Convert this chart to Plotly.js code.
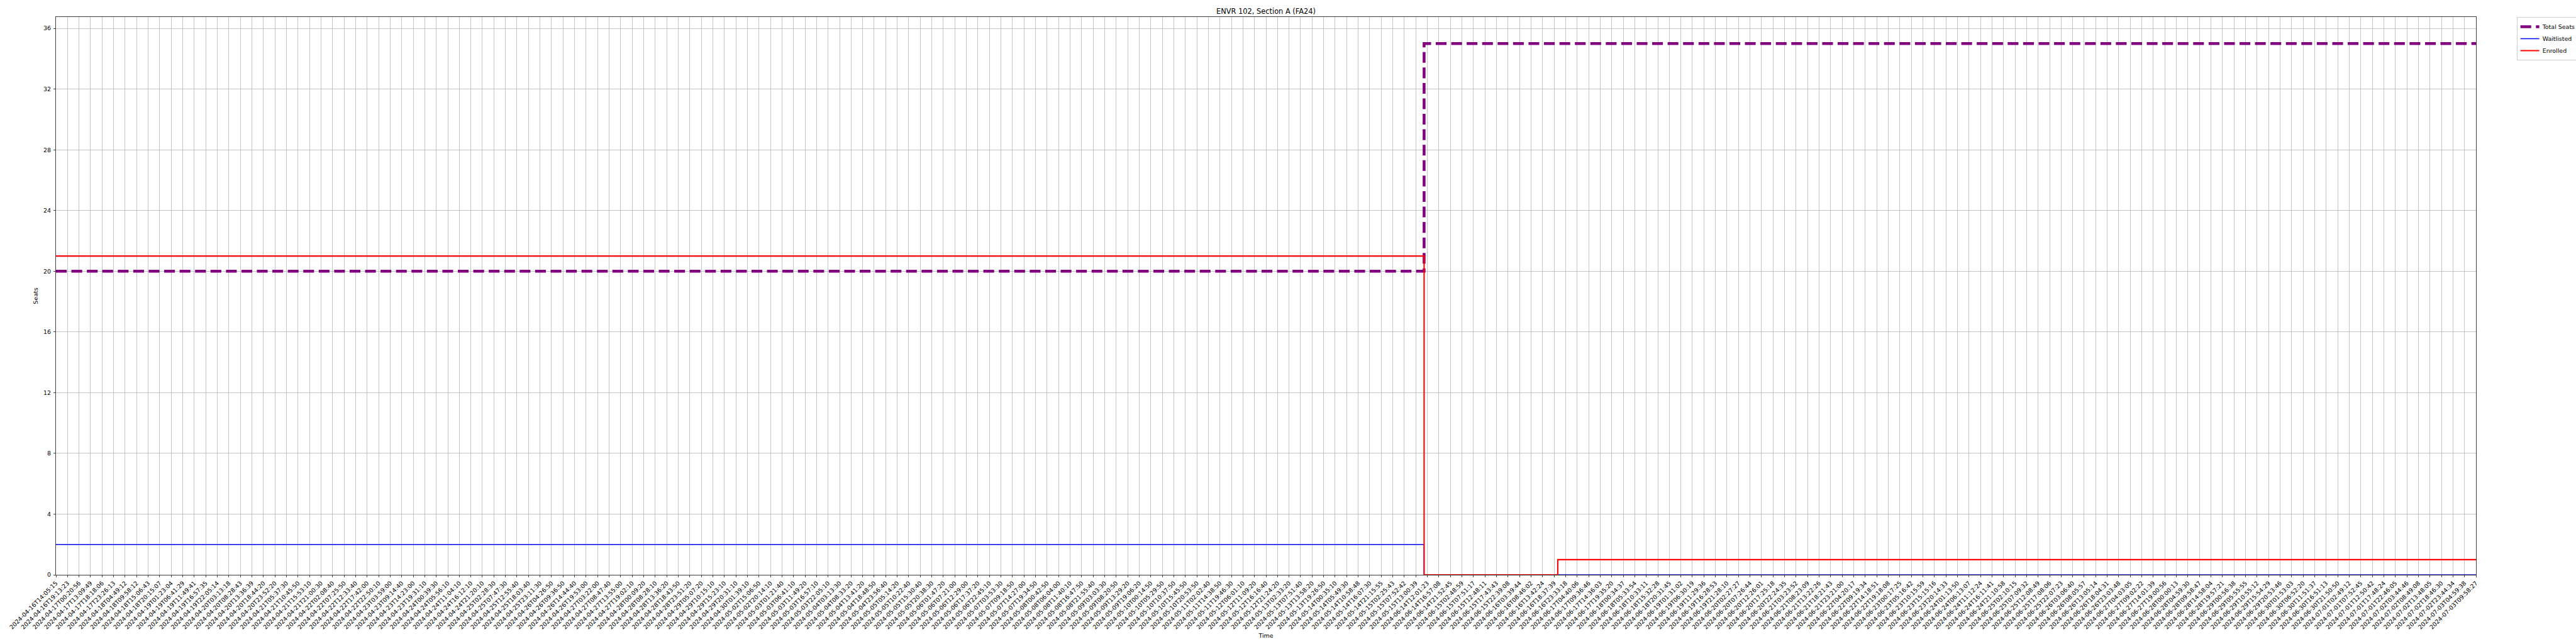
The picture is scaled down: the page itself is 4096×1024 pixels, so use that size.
<!DOCTYPE html>
<html><head><meta charset="utf-8">
<script src="https://cdn.plot.ly/plotly-3.0.1.min.js"></script>
<style>html,body{margin:0;padding:0;background:#fff}#chart{width:4096px;height:1024px}</style>
</head><body><div id="chart"></div>
<script>
const timeLabels = [
"2024-04-16T14:05:15","2024-04-16T19:13:23","2024-04-17T00:20:56","2024-04-17T13:09:49","2024-04-17T18:18:06",
"2024-04-17T23:26:13","2024-04-18T04:49:12","2024-04-18T09:58:12","2024-04-18T15:06:43","2024-04-18T20:15:07",
"2024-04-19T01:23:04","2024-04-19T06:41:29","2024-04-19T11:49:41","2024-04-19T16:57:35","2024-04-19T22:05:14",
"2024-04-20T03:13:18","2024-04-20T08:28:43","2024-04-20T13:36:39","2024-04-20T18:44:20","2024-04-20T23:52:20",
"2024-04-21T05:37:30","2024-04-21T10:45:50","2024-04-21T15:53:10","2024-04-21T21:00:30","2024-04-22T02:08:40",
"2024-04-22T07:25:50","2024-04-22T12:33:40","2024-04-22T17:42:00","2024-04-22T22:50:10","2024-04-23T03:59:00",
"2024-04-23T09:14:40","2024-04-23T14:23:00","2024-04-23T19:31:10","2024-04-24T00:39:30","2024-04-24T05:56:10",
"2024-04-24T11:04:10","2024-04-24T16:12:10","2024-04-24T21:20:10","2024-04-25T02:28:30","2024-04-25T07:47:30",
"2024-04-25T12:55:40","2024-04-25T18:03:40","2024-04-25T23:11:30","2024-04-26T04:26:50","2024-04-26T09:36:50",
"2024-04-26T14:44:40","2024-04-26T19:53:00","2024-04-27T03:22:00","2024-04-27T08:47:40","2024-04-27T13:55:00",
"2024-04-27T19:02:10","2024-04-28T00:09:20","2024-04-28T08:28:10","2024-04-28T13:36:20","2024-04-28T18:43:50",
"2024-04-28T23:51:20","2024-04-29T05:07:20","2024-04-29T10:15:10","2024-04-29T15:23:10","2024-04-29T20:31:10",
"2024-04-30T01:39:10","2024-05-02T15:06:50","2024-05-02T20:14:10","2024-05-03T01:21:40","2024-05-03T06:41:10",
"2024-05-03T11:49:20","2024-05-03T16:57:10","2024-05-03T22:05:10","2024-05-04T03:13:30","2024-05-04T08:33:20",
"2024-05-04T13:41:20","2024-05-04T18:48:50","2024-05-04T23:56:40","2024-05-05T05:14:20","2024-05-05T10:22:40",
"2024-05-05T15:30:40","2024-05-05T20:38:30","2024-05-06T01:47:20","2024-05-06T07:21:00","2024-05-06T12:29:00",
"2024-05-06T17:37:20","2024-05-06T22:45:10","2024-05-07T03:53:30","2024-05-07T09:18:50","2024-05-07T14:27:00",
"2024-05-07T19:34:50","2024-05-08T00:42:50","2024-05-08T06:04:00","2024-05-08T11:40:10","2024-05-08T16:47:50",
"2024-05-08T21:55:40","2024-05-09T03:03:30","2024-05-09T08:20:50","2024-05-09T13:29:20","2024-05-09T19:06:20",
"2024-05-10T00:14:50","2024-05-10T05:29:50","2024-05-10T10:37:50","2024-05-10T15:45:50","2024-05-10T20:53:50",
"2024-05-11T02:02:40","2024-05-11T14:38:50","2024-05-11T19:46:30","2024-05-12T06:01:10","2024-05-12T11:09:20",
"2024-05-12T16:16:40","2024-05-12T21:24:20","2024-05-13T02:33:20","2024-05-13T07:51:40","2024-05-13T13:58:20",
"2024-05-13T19:26:50","2024-05-14T00:35:10","2024-05-14T05:49:30","2024-05-14T10:58:48","2024-05-14T16:07:30",
"2024-05-14T21:15:55","2024-05-15T02:25:43","2024-05-15T07:52:42","2024-05-15T13:00:39","2024-06-14T12:01:23",
"2024-06-14T16:57:08","2024-06-14T21:52:45","2024-06-15T02:48:59","2024-06-15T07:51:17","2024-06-15T12:48:11",
"2024-06-15T17:43:43","2024-06-15T22:39:08","2024-06-16T03:39:44","2024-06-16T08:46:02","2024-06-16T13:42:24",
"2024-06-16T18:37:39","2024-06-16T23:33:18","2024-06-17T04:40:06","2024-06-17T09:36:46","2024-06-17T14:36:03",
"2024-06-17T19:35:20","2024-06-18T00:34:37","2024-06-18T05:33:54","2024-06-18T10:33:11","2024-06-18T15:32:28",
"2024-06-18T20:31:45","2024-06-19T01:31:02","2024-06-19T06:30:19","2024-06-19T11:29:36","2024-06-19T16:28:53",
"2024-06-19T21:28:10","2024-06-20T02:27:27","2024-06-20T07:26:44","2024-06-20T12:26:01","2024-06-20T17:25:18",
"2024-06-20T22:24:35","2024-06-21T03:23:52","2024-06-21T08:23:09","2024-06-21T13:22:26","2024-06-21T18:21:43",
"2024-06-21T23:21:00","2024-06-22T04:20:17","2024-06-22T09:19:34","2024-06-22T14:18:51","2024-06-22T19:18:08",
"2024-06-23T00:17:25","2024-06-23T05:16:42","2024-06-23T10:15:59","2024-06-23T15:15:16","2024-06-23T20:14:33",
"2024-06-24T01:13:50","2024-06-24T06:13:07","2024-06-24T11:12:24","2024-06-24T16:11:41","2024-06-24T21:10:58",
"2024-06-25T02:10:15","2024-06-25T07:09:32","2024-06-25T12:08:49","2024-06-25T17:08:06","2024-06-25T22:07:23",
"2024-06-26T03:06:40","2024-06-26T08:05:57","2024-06-26T13:05:14","2024-06-26T18:04:31","2024-06-26T23:03:48",
"2024-06-27T04:03:05","2024-06-27T09:02:22","2024-06-27T14:01:39","2024-06-27T19:00:56","2024-06-28T00:00:13",
"2024-06-28T04:59:30","2024-06-28T09:58:47","2024-06-28T14:58:04","2024-06-28T19:57:21","2024-06-29T00:56:38",
"2024-06-29T05:55:55","2024-06-29T10:55:12","2024-06-29T15:54:29","2024-06-29T20:53:46","2024-06-30T01:53:03",
"2024-06-30T06:52:20","2024-06-30T11:51:37","2024-06-30T16:51:13","2024-06-30T21:50:50","2024-07-01T02:49:12",
"2024-07-01T07:52:45","2024-07-01T12:50:42","2024-07-01T17:48:24","2024-07-01T22:46:05","2024-07-02T03:44:46",
"2024-07-02T08:49:08","2024-07-02T13:48:05","2024-07-02T18:46:30","2024-07-02T23:44:34","2024-07-03T04:59:38",
"2024-07-03T09:58:27"
];
const seatTicks = [0, 4, 8, 12, 16, 20, 24, 28, 32, 36];

// series as step change points, x measured on the tick-index scale
const totalSeatsX = [0, 118.72, 118.72, 210];
const totalSeatsY = [20, 20, 35, 35];
const waitlistedX = [0, 118.72, 118.72, 210];
const waitlistedY = [2, 2, 0, 0];
const enrolledX = [0, 118.72, 118.72, 130.32, 130.32, 210];
const enrolledY = [21, 21, 0, 0, 1, 1];

const S = 0.6827;
const FONT = 'DejaVu Sans, sans-serif';
const tickIdx = timeLabels.map((_, i) => i);

const traces = [
  {x: totalSeatsX, y: totalSeatsY, name: 'Total Seats', mode: 'lines',
   line: {color: '#800080', width: 6.6*S, dash: (25*S)+'px,'+(11*S)+'px'}},
  {x: waitlistedX, y: waitlistedY, name: 'Waitlisted', mode: 'lines',
   line: {color: '#0000ff', width: 2.2*S}},
  {x: enrolledX, y: enrolledY, name: 'Enrolled', mode: 'lines',
   line: {color: '#ff0000', width: 3.0*S}}
];

const axisCommon = {
  showline: true, mirror: true, linecolor: '#000', linewidth: 1.1*S,
  showgrid: true, gridcolor: '#b0b0b0', gridwidth: 1.1*S,
  zeroline: false, ticks: 'outside', ticklen: 4.9*S, tickwidth: 1.1*S, tickcolor: '#000',
  tickfont: {family: FONT, size: 13.9*S, color: '#000'}, automargin: false
};

const layout = {
  width: 4096, height: 1024,
  margin: {l: 89, r: 159, t: 27, b: 110, pad: 0, autoexpand: false},
  paper_bgcolor: '#fff', plot_bgcolor: '#fff',
  font: {family: FONT, color: '#000'},
  showlegend: true,
  title: {text: 'ENVR 102, Section A (FA24)', font: {family: FONT, size: 16.7*S, color: '#000'},
          x: 0.5, xref: 'paper', xanchor: 'center', y: 1, yref: 'paper', yanchor: 'bottom', pad: {b: 5}},
  xaxis: Object.assign({}, axisCommon, {
    type: 'linear', range: [0, timeLabels.length - 1],
    tickmode: 'array', tickvals: tickIdx, ticktext: timeLabels, tickangle: -45,
    title: {text: 'Time', font: {family: FONT, size: 13.9*S, color: '#000'}}
  }),
  yaxis: Object.assign({}, axisCommon, {
    range: [0, 36.75], tickmode: 'array', tickvals: seatTicks,
    ticklabelstandoff: 2,
    title: {text: 'Seats', font: {family: FONT, size: 13.9*S, color: '#000'}, standoff: 6}
  }),
  legend: {x: 1.0168, y: 1, xanchor: 'left', yanchor: 'top', bgcolor: '#fff',
           bordercolor: '#cccccc', borderwidth: 1, itemwidth: 30,
           font: {family: FONT, size: 13.9*S, color: '#000'}}
};

Plotly.newPlot('chart', traces, layout, {staticPlot: true, displayModeBar: false});
</script></body></html>
